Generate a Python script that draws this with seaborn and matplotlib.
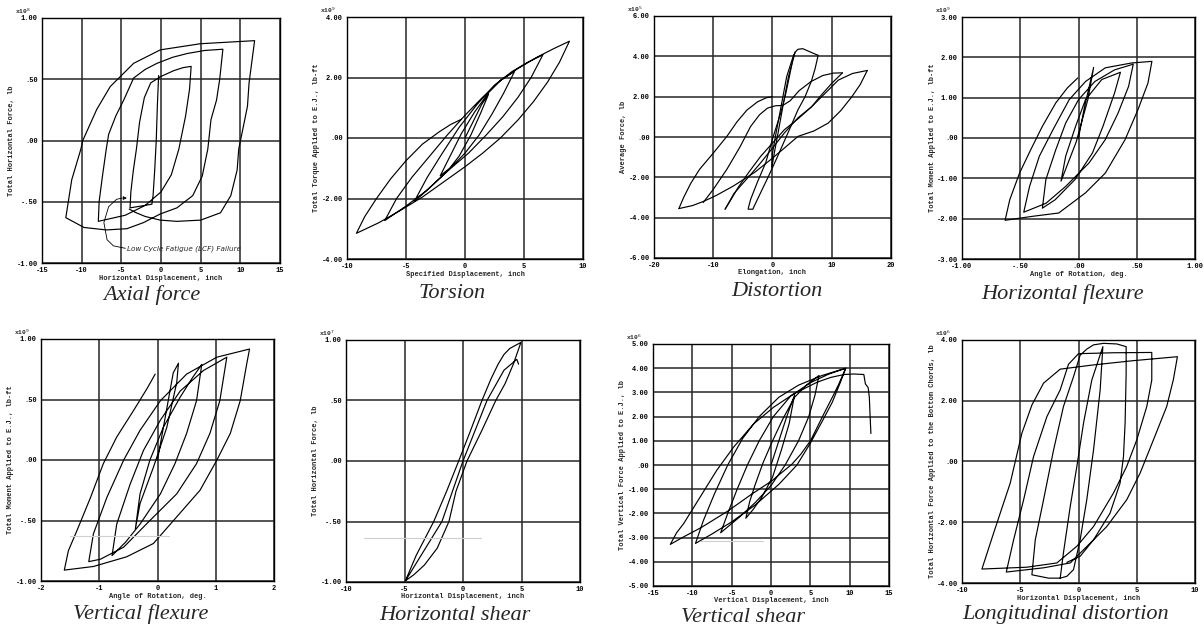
import matplotlib
matplotlib.use("Agg")
import matplotlib.pyplot as plt
from matplotlib.ticker import MultipleLocator, AutoMinorLocator, FuncFormatter
import seaborn as sns

# ---- hysteresis traces (data units) ----
axial_path = [(-0.3, 0.53), (-0.45, 0.3), (-0.6, 0.0), (-0.8, -0.25), (-1.0, -0.45), (-1.15, -0.52),
              (-2.5, -0.535), (-3.9, -0.55), (-3.8, -0.42), (-3.5, -0.25), (-3.1, -0.07), (-2.7, 0.15),
              (-2.1, 0.35), (-1.3, 0.47), (-0.1, 0.52), (1.6, 0.57), (2.8, 0.595), (3.8, 0.605),
              (3.6, 0.42), (3.1, 0.2), (2.25, -0.07), (1.3, -0.28), (0.0, -0.42), (-2.0, -0.53),
              (-4.5, -0.61), (-7.9, -0.66), (-7.8, -0.5), (-7.4, -0.3), (-6.9, -0.07), (-6.6, 0.05),
              (-5.7, 0.2), (-4.7, 0.33), (-3.45, 0.51), (-2.0, 0.58), (-0.5, 0.63), (1.5, 0.68),
              (3.3, 0.71), (5.5, 0.735), (7.8, 0.745), (7.4, 0.5), (7.0, 0.33), (6.3, 0.17),
              (5.9, -0.07), (5.2, -0.29), (4.0, -0.45), (2.0, -0.55), (-0.1, -0.6), (-2.2, -0.67),
              (-4.3, -0.72), (-6.9, -0.73), (-9.7, -0.71), (-12.0, -0.63), (-11.25, -0.32),
              (-10.1, -0.07), (-9.86, 0.0), (-8.09, 0.255), (-6.4, 0.44), (-3.45, 0.63), (-0.08, 0.74),
              (4.97, 0.79), (11.8, 0.815), (11.1, 0.47), (10.9, 0.28), (10.4, 0.12), (9.8, -0.07),
              (9.6, -0.24), (8.8, -0.45), (7.5, -0.59), (5.0, -0.65), (2.0, -0.66), (-0.1, -0.65),
              (-2.0, -0.62), (-3.3, -0.585), (-4.0, -0.56)]
lcf_arrow = [(-4.5, -0.88), (-6.0, -0.86), (-6.8, -0.81), (-7.2, -0.67), (-6.6, -0.54), (-5.6, -0.48), (-4.9, -0.47)]

torsion_path = [(0.0, 0.0), (0.7, 0.55), (1.4, 1.1), (2.0, 1.45),
                (1.3, 0.8), (0.5, 0.1), (-0.5, -0.6), (-1.3, -1.0), (-2.1, -1.25),
                (-1.2, -0.55), (-0.3, 0.15), (0.8, 0.85), (2.0, 1.5), (3.0, 1.9), (4.2, 2.2),
                (3.3, 1.5), (2.3, 0.8), (1.2, 0.1), (0.0, -0.5), (-1.5, -1.1), (-3.0, -1.65), (-4.3, -2.1),
                (-3.2, -1.3), (-2.0, -0.55), (-0.5, 0.35), (1.0, 1.1), (2.5, 1.75), (4.0, 2.2), (5.3, 2.5), (6.6, 2.75),
                (5.6, 2.0), (4.5, 1.35), (3.2, 0.7), (1.8, 0.1), (0.3, -0.5), (-1.5, -1.1), (-3.3, -1.75),
                (-5.0, -2.25), (-6.8, -2.73),
                (-5.8, -2.0), (-4.5, -1.3), (-3.0, -0.6), (-1.5, 0.1), (0.0, 0.75), (1.5, 1.35), (3.0, 1.9),
                (4.5, 2.3), (6.0, 2.65), (7.5, 2.95), (8.85, 3.2),
                (8.0, 2.5), (7.0, 1.85), (5.8, 1.2), (4.5, 0.6), (3.0, 0.0), (1.5, -0.5), (0.0, -0.95),
                (-1.8, -1.45), (-3.6, -1.95), (-5.5, -2.4), (-7.3, -2.8), (-9.2, -3.15),
                (-8.5, -2.6), (-7.5, -2.0), (-6.3, -1.35), (-5.0, -0.75), (-3.6, -0.2), (-2.2, 0.2),
                (-1.2, 0.45), (-0.3, 0.62)]

dist_tall_up = [(-4.1, -3.55), (-3.7, -3.1), (-2.5, -2.2), (-1.15, -1.28), (0.1, 0.0), (1.4, 1.2), (2.2, 2.1),
                (2.85, 3.0), (3.4, 3.8), (3.8, 4.2), (4.3, 4.35), (5.1, 4.38), (6.5, 4.2), (7.7, 4.05)]
dist_tall_down = [(7.7, 4.05), (7.2, 3.4), (6.6, 2.8), (5.5, 2.0), (4.3, 1.35), (3.2, 0.6), (2.3, 0.0),
                  (0.86, -0.96), (-0.6, -1.9), (-2.0, -2.76), (-3.2, -3.5), (-3.3, -3.58), (-4.1, -3.58)]
dist_thin_a = [(3.8, 4.2), (2.7, 3.0), (1.8, 1.6), (1.0, 0.3), (0.3, -0.8), (-0.1, -1.5)]
dist_thin_b = [(3.6, 4.1), (2.4, 3.0), (1.5, 1.6), (0.6, 0.2), (0.0, -0.8), (-0.1, -1.5)]
dist_outer_up = [(-15.8, -3.55), (-15.0, -3.0), (-13.8, -2.3), (-12.3, -1.6), (-10.0, -0.8), (-7.7, 0.03),
                 (-6.0, 0.75), (-4.3, 1.34), (-2.5, 1.75), (-1.0, 1.95), (0.0, 2.0)]
dist_outer_down = [(16.0, 3.3), (14.8, 2.6), (13.4, 2.0), (11.5, 1.3), (9.4, 0.69), (7.0, 0.3), (4.3, 0.03),
                   (2.0, -0.55), (-0.3, -1.12), (-3.0, -1.75), (-6.6, -2.43), (-9.5, -2.9), (-11.7, -3.2),
                   (-13.5, -3.4), (-15.8, -3.55)]
dist_mid_up = [(-11.7, -3.25), (-10.0, -2.6), (-7.7, -1.6), (-5.5, -0.5), (-3.7, 0.52), (-2.2, 1.1),
               (-0.86, 1.43), (0.5, 1.55), (1.7, 1.56), (3.0, 1.8), (4.5, 2.3), (6.5, 2.75), (8.5, 3.05),
               (10.3, 3.17), (11.8, 3.18)]
dist_mid_down = [(11.8, 3.18), (10.0, 2.66), (8.3, 2.1), (6.6, 1.5), (4.3, 0.9), (2.0, 0.36), (0.0, -0.3),
                 (-2.0, -0.96), (-4.0, -1.75), (-5.8, -2.5), (-7.0, -3.1), (-8.0, -3.58)]
dist_wide_up = [(-8.0, -3.58), (-6.5, -2.8), (-5.4, -2.43), (-3.5, -1.8), (-2.0, -1.28), (0.0, -0.55),
                (2.0, 0.2), (4.3, 0.95), (6.6, 1.5), (9.0, 2.2), (11.1, 2.82), (13.5, 3.15), (16.0, 3.3)]

hflex_path = [(0.0, 0.0), (0.05, 0.75), (0.13, 1.75), (0.08, 0.95), (-0.02, -0.1), (-0.15, -1.07),
              (-0.11, -0.45), (-0.025, 0.29), (0.06, 0.95), (0.2, 1.45), (0.36, 1.63),
              (0.31, 1.12), (0.21, 0.29), (0.12, -0.37), (-0.03, -1.03), (-0.2, -1.53), (-0.31, -1.74),
              (-0.28, -1.03), (-0.195, -0.29), (-0.11, 0.37), (0.0, 0.95), (0.14, 1.4), (0.31, 1.69), (0.47, 1.83),
              (0.43, 1.28), (0.34, 0.62), (0.23, -0.04), (0.09, -0.62), (-0.11, -1.2), (-0.28, -1.62), (-0.47, -1.84),
              (-0.42, -1.2), (-0.336, -0.45), (-0.22, 0.2), (-0.08, 0.95), (0.06, 1.4), (0.23, 1.74),
              (0.455, 1.86), (0.63, 1.9),
              (0.596, 1.36), (0.51, 0.70), (0.40, -0.04), (0.23, -0.87), (0.06, -1.36), (-0.17, -1.86),
              (-0.39, -1.94), (-0.63, -2.04),
              (-0.59, -1.53), (-0.506, -0.87), (-0.41, -0.29), (-0.31, 0.29), (-0.195, 0.87), (-0.096, 1.24),
              (-0.006, 1.49)]

vflex_path = [(0.0, 0.0), (0.15, 0.4), (0.27, 0.72), (0.36, 0.80), (0.33, 0.64), (0.16, 0.27),
              (-0.07, -0.06), (-0.3, -0.36), (-0.38, -0.57),
              (-0.3, -0.28), (-0.13, 0.0), (0.1, 0.27), (0.39, 0.52), (0.6, 0.68), (0.76, 0.79),
              (0.67, 0.49), (0.5, 0.22), (0.3, -0.03), (0.05, -0.28), (-0.3, -0.53), (-0.55, -0.68), (-0.78, -0.79),
              (-0.7, -0.53), (-0.47, -0.2), (-0.24, 0.08), (0.05, 0.33), (0.39, 0.57), (0.79, 0.74), (1.19, 0.85),
              (1.07, 0.49), (0.9, 0.22), (0.67, -0.03), (0.33, -0.28), (-0.13, -0.5), (-0.58, -0.72),
              (-0.98, -0.82), (-1.18, -0.84),
              (-1.1, -0.61), (-0.87, -0.31), (-0.58, 0.0), (-0.3, 0.245), (0.05, 0.49), (0.5, 0.71),
              (1.02, 0.85), (1.58, 0.917),
              (1.53, 0.79), (1.42, 0.49), (1.25, 0.22), (1.02, 0.0), (0.73, -0.25), (0.33, -0.47),
              (-0.07, -0.69), (-0.53, -0.8), (-1.1, -0.88), (-1.6, -0.91),
              (-1.53, -0.75), (-1.38, -0.58), (-1.15, -0.31), (-0.93, -0.03), (-0.7, 0.19), (-0.41, 0.41),
              (-0.18, 0.59), (-0.04, 0.71)]

hshear_path = [(-4.92, -0.99), (-4.0, -0.78), (-2.5, -0.5), (-1.4, -0.25), (-0.37, 0.0), (0.6, 0.24),
               (1.62, 0.5), (2.4, 0.68), (3.0, 0.8), (3.5, 0.88), (4.0, 0.93), (4.95, 0.98),
               (4.3, 0.8), (3.6, 0.64), (2.8, 0.5), (1.6, 0.25), (0.34, 0.0), (-0.6, -0.25), (-1.2, -0.5),
               (-2.2, -0.72), (-3.3, -0.86), (-4.2, -0.94), (-4.92, -0.99),
               (-1.8, -0.5), (0.0, 0.0), (2.05, 0.5), (3.5, 0.75), (4.6, 0.84), (4.75, 0.80)]

vshear_path = [(0.0, 0.0), (1.0, 1.0), (2.0, 2.0), (3.0, 2.9),
               (2.3, 1.7), (1.3, 0.6), (0.2, -0.5), (-1.2, -1.35), (-2.3, -1.85), (-3.2, -2.2),
               (-2.7, -1.5), (-2.0, -0.8), (-1.0, 0.1), (0.2, 1.0), (1.5, 1.9), (3.0, 2.8), (4.5, 3.3), (6.1, 3.7),
               (5.6, 2.9), (4.8, 2.0), (3.5, 1.0), (1.8, 0.0), (0.0, -0.85), (-2.0, -1.55), (-4.0, -2.15), (-6.4, -2.8),
               (-5.5, -2.0), (-4.3, -1.0), (-3.0, 0.0), (-1.5, 1.0), (0.3, 2.0), (2.5, 2.85), (5.0, 3.4),
               (7.3, 3.75), (9.5, 4.0),
               (8.8, 3.4), (7.8, 2.6), (6.5, 1.8), (5.0, 0.9), (3.3, 0.0), (1.0, -0.8), (-2.0, -1.65),
               (-5.0, -2.35), (-7.5, -2.85), (-9.6, -3.24),
               (-8.6, -2.3), (-7.2, -1.2), (-5.5, 0.0), (-3.6, 1.1), (-1.5, 2.0), (1.0, 2.8), (3.5, 3.3),
               (6.5, 3.7), (9.5, 4.0),
               (8.6, 3.33), (7.8, 2.8), (6.9, 2.23), (5.0, 0.99), (3.8, 0.45), (2.65, 0.03), (1.3, -0.33),
               (0.09, -0.66), (-2.48, -1.21), (-5.47, -1.9), (-8.9, -2.59), (-11.0, -2.95), (-12.8, -3.28),
               (-12.0, -2.8), (-11.1, -2.42), (-9.0, -1.32), (-6.9, -0.22), (-4.75, 0.74), (-2.2, 1.7),
               (0.34, 2.39), (2.9, 2.94), (5.85, 3.42), (7.6, 3.62), (9.3, 3.74), (10.5, 3.76), (11.8, 3.74),
               (12.0, 3.35), (12.35, 3.2), (12.5, 2.8), (12.6, 2.0), (12.7, 1.3)]

ldist_path = [(-1.57, -3.84), (-1.29, -3.0), (-0.71, -1.48), (-0.14, -0.16), (0.43, 1.26), (1.14, 2.68),
              (2.09, 3.78), (1.86, 2.36), (1.29, 0.38), (0.71, -1.26), (0.14, -2.58), (-0.43, -3.56),
              (-1.0, -3.78), (-1.57, -3.84), (-2.57, -3.84), (-4.0, -3.73),
              (-3.71, -2.58), (-3.0, -1.26), (-2.14, 0.38), (-1.29, 1.81), (-0.43, 2.79), (0.14, 3.5),
              (0.71, 3.7), (1.29, 3.84), (2.14, 3.89), (3.29, 3.87), (4.09, 3.78),
              (4.09, 2.9), (4.0, 1.26), (3.86, 0.16), (3.57, -0.71), (2.71, -1.7), (1.29, -2.58),
              (-0.71, -3.34), (-3.0, -3.5), (-6.2, -3.64),
              (-5.57, -2.58), (-4.71, -1.26), (-3.86, 0.16), (-2.71, 1.48), (-1.57, 2.36), (-0.86, 3.2),
              (0.0, 3.55), (3.0, 3.58), (6.29, 3.59),
              (6.29, 2.68), (5.86, 1.81), (5.0, 0.71), (4.14, -0.16), (3.0, -1.04), (1.29, -2.14),
              (-0.14, -2.79), (-1.86, -3.34), (-4.43, -3.48), (-8.29, -3.54),
              (-7.29, -2.36), (-5.86, -0.71), (-4.86, 0.93), (-4.0, 1.86), (-3.0, 2.58), (-1.57, 3.04),
              (1.29, 3.18), (4.71, 3.32), (8.49, 3.45),
              (8.14, 2.69), (7.57, 1.81), (6.43, 0.71), (5.29, -0.38), (4.14, -1.26), (2.43, -2.14),
              (1.29, -2.58), (0.14, -3.12), (-1.0, -3.32)]

# faint scan streaks visible on the copies
streak_vflex = [(-1.5, -0.63), (0.2, -0.63)]
streak_hshear = [(-8.5, -0.64), (1.5, -0.64)]
streak_vshear = [(-9.0, -3.12), (-1.0, -3.12)]

captions = ["Axial force", "Torsion", "Distortion", "Horizontal flexure",
            "Vertical flexure", "Horizontal shear", "Vertical shear", "Longitudinal distortion"]
y_labels = ["Total Horizontal Force, lb", "Total Torque Applied to E.J., lb-ft", "Average Force, lb",
            "Total Moment Applied to E.J., lb-ft", "Total Moment Applied to E.J., lb-ft",
            "Total Horizontal Force, lb", "Total Vertical Force Applied to E.J., lb",
            "Total Horizontal Force Applied to the Bottom Chords, lb"]
x_labels = ["Horizontal Displacement, inch", "Specified Displacement, inch", "Elongation, inch",
            "Angle of Rotation, deg.", "Angle of Rotation, deg.", "Horizontal Displacement, inch",
            "Vertical Displacement, inch", "Horizontal Displacement, inch"]
exponents = [8, 9, 5, 9, 9, 7, 6, 6]

sns.set_theme(style="white")
plt.rcParams['font.family'] = ['Liberation Mono', 'DejaVu Sans Mono']

W, H = 1204, 634
fig = plt.figure(figsize=(W / 100, H / 100), dpi=100)
fig.patch.set_facecolor('white')


def dec(v, pos=None):
    s = f"{v:.2f}"
    if s.lstrip('-').startswith('0.'):
        s = s.replace('0.', '.', 1)
    return s


def whole(v, pos=None):
    return str(int(round(v)))


def draw(ax, seg, color='black', lw=0.85):
    sns.lineplot(x=[p[0] for p in seg], y=[p[1] for p in seg], sort=False,
                 estimator=None, color=color, lw=lw, ax=ax)


def panel(i, box, segs, xlim, xstep, ylim, ystep, cap_xy, xfmt=whole):
    l, t, r, b = box
    w, h = r - l, b - t
    ax = fig.add_axes([l / W, 1 - b / H, w / W, h / H])
    ax.set_facecolor('white')
    for seg in segs:
        draw(ax, seg)
    ax.set_xlim(xlim)
    ax.set_ylim(ylim)
    ax.xaxis.set_major_locator(MultipleLocator(xstep))
    ax.yaxis.set_major_locator(MultipleLocator(ystep))
    ax.xaxis.set_minor_locator(AutoMinorLocator(5))
    ax.yaxis.set_minor_locator(AutoMinorLocator(5))
    ax.xaxis.set_major_formatter(FuncFormatter(xfmt))
    ax.yaxis.set_major_formatter(FuncFormatter(dec))
    ax.grid(True, which='major', color='#262626', lw=1.1)
    ax.tick_params(which='both', direction='in', top=False, right=False, colors='black',
                   labelsize=5, pad=3)
    ax.tick_params(which='major', length=4, width=0.8)
    ax.tick_params(which='minor', length=2, width=0.6)
    for lab in ax.get_xticklabels() + ax.get_yticklabels():
        lab.set_fontweight('bold')
    for sp in ax.spines.values():
        sp.set_color('black')
        sp.set_linewidth(1.0)
    ax.set_xlabel(x_labels[i], fontsize=5, fontweight='bold')
    ax.set_ylabel(y_labels[i], fontsize=5, fontweight='bold')
    ax.xaxis.set_label_coords(0.5, -15 / h)
    ax.yaxis.set_label_coords(-30 / w, 0.5)
    ax.xaxis.label.set_va('center')
    ax.yaxis.label.set_va('center')
    ax.text(-27 / w, 1 + 2 / h, f"x10$^{exponents[i]}$", transform=ax.transAxes,
            fontsize=4.5, fontweight='bold', ha='left', va='bottom')
    fig.text(cap_xy[0] / W, 1 - cap_xy[1] / H, captions[i], family='Liberation Serif',
             style='italic', fontsize=16, ha='center', va='center')
    return ax


ax1 = panel(0, (42, 18, 280, 263), [axial_path], (-15, 15), 5, (-1, 1), 0.5, (152, 295))
draw(ax1, lcf_arrow, lw=0.6)
ax1.annotate('', xy=(-4.3, -0.47), xytext=(-4.9, -0.47),
             arrowprops=dict(arrowstyle='-|>', lw=0.6, color='black', mutation_scale=5))
ax1.text(-4.3, -0.88, "Low Cycle Fatigue (LCF) Failure", family='DejaVu Sans', style='italic',
         fontsize=5.2, ha='left', va='center')

panel(1, (347, 17, 583, 259), [torsion_path], (-10, 10), 5, (-4, 4), 2, (452, 293))
panel(2, (654, 16, 891, 258),
      [dist_tall_up, dist_tall_down, dist_thin_a, dist_thin_b, dist_outer_up, dist_outer_down,
       dist_mid_up, dist_mid_down, dist_wide_up], (-20, 20), 10, (-6, 6), 2, (777, 292))
panel(3, (962, 17, 1195, 259), [hflex_path], (-1, 1), 0.5, (-3, 3), 1, (1063, 294), xfmt=dec)
ax5 = panel(4, (41, 339, 274, 581), [vflex_path], (-2, 2), 1, (-1, 1), 0.5, (141, 614))
ax6 = panel(5, (346, 340, 580, 582), [hshear_path], (-10, 10), 5, (-1, 1), 0.5, (455, 615))
ax7 = panel(6, (653, 344, 889, 586), [vshear_path], (-15, 15), 5, (-5, 5), 1, (743, 618))
panel(7, (962, 340, 1195, 583), [ldist_path], (-10, 10), 5, (-4, 4), 2, (1066, 614))

draw(ax5, streak_vflex, color='#cfcfcf', lw=0.8)
draw(ax6, streak_hshear, color='#cfcfcf', lw=0.8)
draw(ax7, streak_vshear, color='#cfcfcf', lw=0.8)

fig.savefig("out.png", dpi=100, facecolor='white')
